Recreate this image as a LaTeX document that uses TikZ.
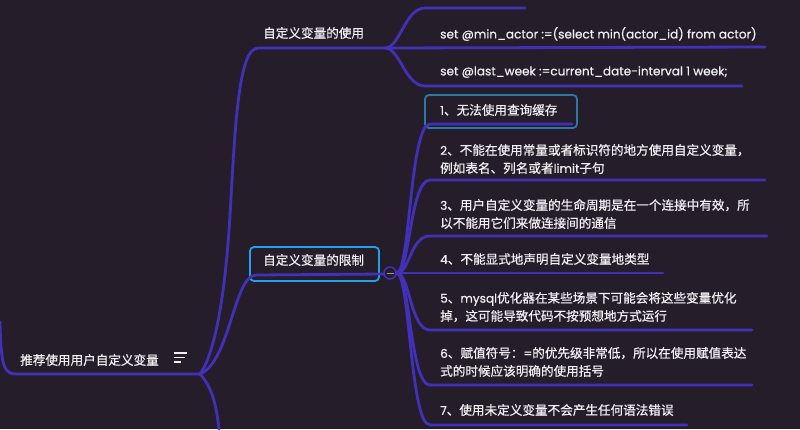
\documentclass[tikz,border=0pt]{standalone}
\usepackage{fontspec}
\setmainfont{Poppins}[Scale=0.96, FakeBold=0.5]
\newfontfamily\cjk{Noto Sans CJK SC}[FakeBold=0.6]
\newcommand\zh[1]{{\cjk #1}}
\definecolor{bgc}{HTML}{251D2A}
\definecolor{linkc}{HTML}{4231B8}
\definecolor{boxa}{HTML}{22A0EC}
\definecolor{boxb}{HTML}{2E78A8}
\definecolor{txtc}{HTML}{F2F0F4}
\tikzset{
  link/.style={draw=linkc, line width=2.8pt, line cap=round},
  txt/.style={text=txtc, font=\fontsize{12.6}{18}\selectfont, inner sep=0pt, anchor=west, align=left},
  framebox/.style={draw=#1, line width=1.8pt, rounded corners=4pt, inner sep=0pt},
}
\begin{document}
\begin{tikzpicture}[x=1pt,y=-1pt]
\fill[bgc] (0,0) rectangle (800,429);
\useasboundingbox (0,0) rectangle (800,429);

% boxes
\node[framebox=boxa, minimum width=129pt, minimum height=34pt] (limbox) at (314.5,264) {};
\node[framebox=boxb, minimum width=152pt, minimum height=33pt] (i1box) at (501,111.5) {};

% coordinates
\coordinate (root) at (200,374);
\coordinate (rootL) at (0,322);
\coordinate (down) at (219,429);
\coordinate (useF) at (385,48);
\coordinate (limF) at (384,274);
\node[circle, draw=linkc, fill=bgc, line width=1.5pt, minimum size=12pt, inner sep=0pt] (fold) at (390,273) {};
\draw[line width=1pt, draw=gray!80] ([xshift=-3.5pt]fold.center) -- ([xshift=3.5pt]fold.center);

% root links
\draw[link] (rootL) .. controls (1,366) and (4,374) .. (16,374) -- (root);
\draw[link] (root) .. controls (214,355) and (225,300) .. (230,215) .. controls (235,130) and (238,48) .. (258,48) -- (useF);
\draw[link] (root) .. controls (230,362) and (234,275) .. (256,275) -- (limF);
\draw[link] (root) .. controls (211,386) and (216,402) .. (down);

% use children
\draw[link] (useF) .. controls (400,48) and (405,8) .. (425,8) -- (525,8);
\draw[link] (useF) -- (765,47);
\draw[link] (useF) .. controls (400,48) and (405,86) .. (425,86) -- (742,86);

% limit children
\foreach \y/\e in {124/572, 180/765, 236/767, 330/752, 385/752, 425/687}{
  \draw[link] (fold.east) .. controls (410,273) and (410,\y) .. (430,\y) -- (\e,\y);
}
\draw[link] (fold.east) -- (663,273);

% texts
\node[txt] (rootT) at (20,360) {\zh{推荐使用用户自定义变量}};
\draw[txtc, line width=1.4pt] (174,353) -- (187,353) (174,357.5) -- (185,357.5) (174,362) -- (181,362);
\node[txt] (useT) at (263,33) {\zh{自定义变量的使用}};
\node[txt] (minT) at (440,34) {set @min\_actor :=(select min(actor\_id) from actor)};
\node[txt] (lastT) at (440,72) {set @last\_week :=current\_date-interval 1 week;};
\node[txt] (limT) at (263,260) {\zh{自定义变量的限制}};
\node[txt] (i1) at (440,110) {1\zh{、无法使用查询缓存}};
\node[txt] (i2) at (440,159) {2\zh{、不能在使用常量或者标识符的地方使用自定义变量，}\\\zh{例如表名、列名或者}limit\zh{子句}};
\node[txt] (i3) at (440,214) {3\zh{、用户自定义变量的生命周期是在一个连接中有效，所}\\\zh{以不能用它们来做连接间的通信}};
\node[txt] (i4) at (440,259) {4\zh{、不能显式地声明自定义变量地类型}};
\node[txt] (i5) at (440,307) {5\zh{、}mysql\zh{优化器在某些场景下可能会将这些变量优化}\\\zh{掉，这可能导致代码不按预想地方式运行}};
\node[txt] (i6) at (440,362) {6\zh{、赋值符号：}=\zh{的优先级非常低，所以在使用赋值表达}\\\zh{式的时候应该明确的使用括号}};
\node[txt] (i7) at (440,410) {7\zh{、使用未定义变量不会产生任何语法错误}};
\end{tikzpicture}
\end{document}
